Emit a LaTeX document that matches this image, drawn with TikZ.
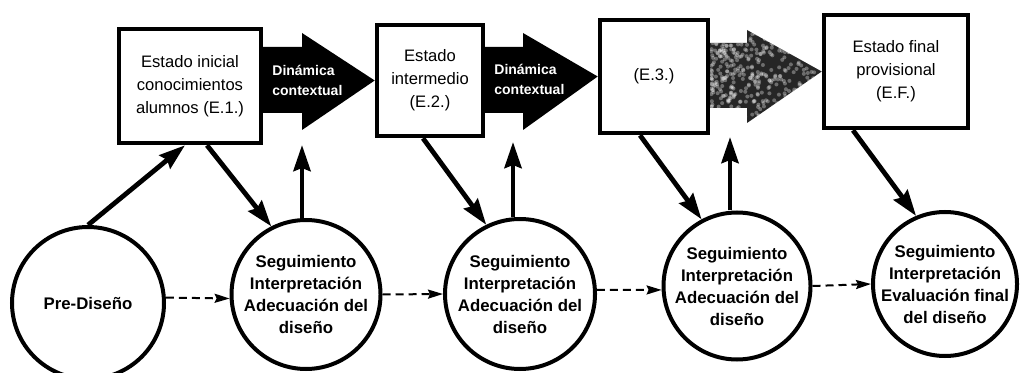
\documentclass[tikz,border=0pt]{standalone}
\usepackage{fontspec}
\setmainfont{Liberation Sans}
\usetikzlibrary{arrows.meta,calc}
\begin{document}
\begin{tikzpicture}[x=0.5pt,y=-0.5pt,
  statebox/.style={draw,line width=2.3pt,inner sep=0pt,align=center,font=\fontsize{8.3}{11.6}\selectfont},
  phasecircle/.style={draw,circle,line width=2pt,inner sep=-4pt,align=center,font=\bfseries\fontsize{8.4}{11}\selectfont},
  flowtext/.style={text=white,align=left,font=\bfseries\fontsize{7}{10}\selectfont,inner sep=0pt},
  thickarrow/.style={line width=2.4pt,-{Stealth[length=13pt,width=8.5pt,inset=1.5pt]}},
  dasharrow/.style={line width=1pt,dash pattern=on 4pt off 2.5pt,-{Stealth[length=7.5pt,width=4.5pt,inset=1pt]}}
]
\useasboundingbox (0,0) rectangle (1020,373);
\fill[white] (0,0) rectangle (1020,373);

% state boxes
\node[statebox,minimum width=71pt,minimum height=57pt] (b1) at (190,86) {Estado inicial\\conocimientos\\alumnos (E.1.)};
\node[statebox,minimum width=53pt,minimum height=55.5pt] (b2) at (430,80.5) {Estado\\intermedio\\(E.2.)};
\node[statebox,minimum width=54pt,minimum height=56.5pt] (b3) at (654,76.5) {(E.3.)};
\node[statebox,minimum width=72pt,minimum height=56.5pt] (b4) at (896,71.5) {Estado final\\provisional\\(E.F.)};

% phase circles
\node[phasecircle,minimum size=76pt] (c1) at (88,303) {Pre-Diseño};
\node[phasecircle,minimum size=74.5pt] (c2) at (306,294.5) {Seguimiento\\Interpretación\\Adecuación del\\diseño};
\node[phasecircle,minimum size=75pt] (c3) at (520,294) {Seguimiento\\Interpretación\\Adecuación del\\diseño};
\node[phasecircle,minimum size=73.5pt] (c4) at (737,286) {Seguimiento\\Interpretación\\Adecuación del\\diseño};
\node[phasecircle,minimum size=72pt] (c5) at (945,284) {Seguimiento\\Interpretación\\Evaluación final\\del diseño};

% big block arrows between states
\fill[black] (263,47) -- (302,47) -- (302,33) -- (b2.west) -- (302,130) -- (302,113) -- (263,113) -- cycle;
\fill[black] (485,47) -- (523,47) -- (523,33) -- (b3.west) -- (523,130) -- (523,113) -- (485,113) -- cycle;
\begin{scope}
  \clip (710,43) -- (747,43) -- (747,30) -- (b4.west) -- (747,123) -- (747,108) -- (710,108) -- cycle;
  \fill[black!85] (700,20) rectangle (830,135);
  \pgfmathsetseed{11}
  \foreach \k in {1,...,420}{
    \pgfmathsetmacro\px{711+105*rnd^1.4}
    \pgfmathsetmacro\py{32+90*rnd}
    \fill[white,opacity=0.33] (\px,\py) circle (1pt);
  }
\end{scope}
\node[flowtext,anchor=west] (t1) at (272,80) {Dinámica\\contextual};
\node[flowtext,anchor=west] (t2) at (494,79) {Dinámica\\contextual};

% free ends of the upward arrows
\coordinate (u1) at (302,145);
\coordinate (u2) at (513,142);
\coordinate (u3) at (730,137);

% thick arrows
\draw[thickarrow] (c1.north) -- ([xshift=-2.5pt]b1.south);
\draw[thickarrow] ([xshift=8.5pt]b1.south) -- (c2.117);
\draw[thickarrow] (c2.north -| u1) -- (u1);
\draw[thickarrow] ([xshift=-3.5pt]b2.south) -- (c3.116);
\draw[thickarrow] (c3.north -| u2) -- (u2);
\draw[thickarrow] ([xshift=-7pt]b3.south) -- (c4.118);
\draw[thickarrow] (c4.north -| u3) -- (u3);
\draw[thickarrow] ([xshift=-21.5pt]b4.south) -- (c5.113);

% dashed arrows
\draw[dasharrow] (c1.4) -- (c2.183);
\draw[dasharrow] (c2.east) -- (c3.west);
\draw[dasharrow] (c3.3) -- (c4.183);
\draw[dasharrow] (c4.east) -- (c5.west);
\end{tikzpicture}
\end{document}
